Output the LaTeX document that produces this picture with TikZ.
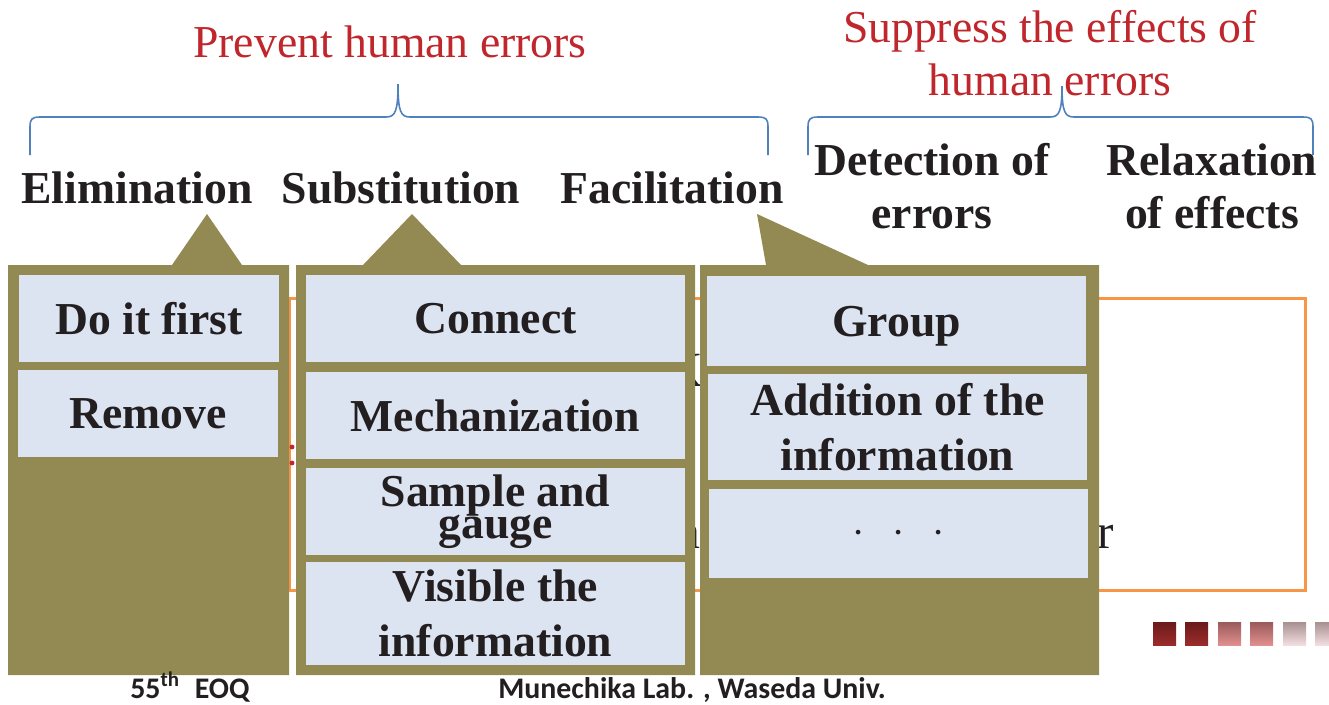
\documentclass[tikz,border=0pt]{standalone}
\usepackage{fontspec}
\setmainfont{Liberation Serif}
\newfontfamily\footfont{Carlito}

\definecolor{calloutolive}{RGB}{147,137,83}
\definecolor{boxblue}{RGB}{220,227,241}
\definecolor{titlered}{RGB}{192,39,45}
\definecolor{braceblue}{RGB}{79,129,189}
\definecolor{frameorange}{RGB}{247,150,70}
\definecolor{inkblack}{RGB}{35,31,32}
\definecolor{darktop}{RGB}{107,26,26}
\definecolor{darkbot}{RGB}{155,44,44}
\definecolor{midtop}{RGB}{154,90,90}
\definecolor{midbot}{RGB}{224,144,142}
\definecolor{paletop}{RGB}{168,144,144}
\definecolor{palebot}{RGB}{242,221,224}

\begin{document}
\begin{tikzpicture}[x=0.02cm,y=-0.02cm,
    heading/.style={font=\fontsize{26}{30}\selectfont\bfseries, text=inkblack, align=center, inner sep=0pt},
    title/.style={font=\fontsize{26}{30}\selectfont, text=titlered, align=center, inner sep=0pt},
    brace/.style={draw=braceblue, line width=0.9pt},
    callout/.style={fill=calloutolive},
    item/.style={fill=boxblue, inner sep=0pt, minimum width=7.58cm, minimum height=1.74cm,
        font=\fontsize{26}{31}\selectfont\bfseries, text=inkblack, align=center},
    hidden/.style={font=\fontsize{28}{32}\selectfont, text=inkblack, inner sep=0pt},
    foot/.style={font=\footfont\fontsize{17}{20}\selectfont\bfseries, text=inkblack, inner sep=0pt}]

    \useasboundingbox (0,0) rectangle (1329,704);
    \fill[white] (0,0) rectangle (1329,704);

    % titles and braces
    \node[title, anchor=base] (prevent) at (390,57) {Prevent human errors};
    \node[title, anchor=base] (suppress) at (1050,95) {Suppress the effects of\\human errors};

    \draw[brace] (30,155) -- (30,127) .. controls (30,119) and (32,117) .. (40,117) -- (386,117)
        .. controls (395,117) and (398,112) .. (398,84) .. controls (398,112) and (401,117) .. (410,117)
        -- (758,117) .. controls (766,117) and (768,119) .. (768,127) -- (768,155);
    \draw[brace] (808,155) -- (808,127) .. controls (808,119) and (810,117) .. (818,117) -- (1050,117)
        .. controls (1059,117) and (1062,112) .. (1062,86) .. controls (1062,112) and (1065,117) .. (1074,117)
        -- (1303,117) .. controls (1311,117) and (1313,119) .. (1313,127) -- (1313,155);

    \node[heading, anchor=base] (elim) at (137,203) {Elimination};
    \node[heading, anchor=base] (subst) at (401,203) {Substitution};
    \node[heading, anchor=base] (facil) at (672,203) {Facilitation};
    \node[heading, anchor=base] (detect) at (932,228) {Detection of\\errors};
    \node[heading, anchor=base] (relax) at (1212,228) {Relaxation\\of effects};

    % slide behind the callouts
    \draw[frameorange, line width=1.7pt] (290,298) rectangle (1305,590);
    \fill[titlered] (292,447) circle (1.4pt);
    \fill[titlered] (292,463) circle (1.4pt);
    \node[hidden, anchor=base east] (hidk) at (703,386) {K};
    \node[hidden, anchor=base east] (hida) at (701,548) {a};
    \node[hidden, anchor=base west] (hidr) at (1097,548) {r};

    % callouts
    \fill[callout] (8,265) -- (172,265) -- (207,214) -- (242,265) -- (289,265) -- (289,675) -- (8,675) -- cycle;
    \fill[callout] (296,265) -- (363,265) -- (412,214) -- (461,265) -- (695,265) -- (695,675) -- (296,675) -- cycle;
    \fill[callout] (700,265) -- (766,265) -- (757,214) -- (868,265) -- (1099,265) -- (1099,675) -- (700,675) -- cycle;

    \node[item, minimum width=5.2cm] (first) at (149,318.5) {Do it first};
    \node[item, minimum width=5.2cm] (remove) at (148,413.5) {Remove};

    \node[item] (connect) at (495.5,318.5) {Connect};
    \node[item] (mech) at (495.5,415.5) {Mechanization};
    \node[item] (sample) at (495.5,511.5) {Sample and\\[-13pt]gauge};
    \node[item, minimum height=2.06cm] (visible) at (495.5,613.5) {Visible the\\information};

    \node[item, minimum height=1.8cm, text depth=0pt] (group) at (896.5,321) {Group};
    \node[item, minimum height=2.12cm] (addinfo) at (897.5,427) {Addition of the\\information};
    \node[item, minimum height=1.78cm] (more) at (898.5,533.5) {$\cdot$\hspace{16pt}$\cdot$\hspace{16pt}$\cdot$};

    % small squares
    \foreach \x/\tone in {1153/dark,1185/dark,1218/mid,1250/mid,1283/pale,1315/pale}
        \shade[top color=\tone top, bottom color=\tone bot] (\x,622) rectangle ++(23,23);

    % footer
    \node[foot, anchor=base] (eoq) at (190,698) {55\textsuperscript{th}\enspace EOQ};
    \node[foot, anchor=base] (lab) at (692,698) {Munechika Lab. , Waseda Univ.};

\end{tikzpicture}
\end{document}
